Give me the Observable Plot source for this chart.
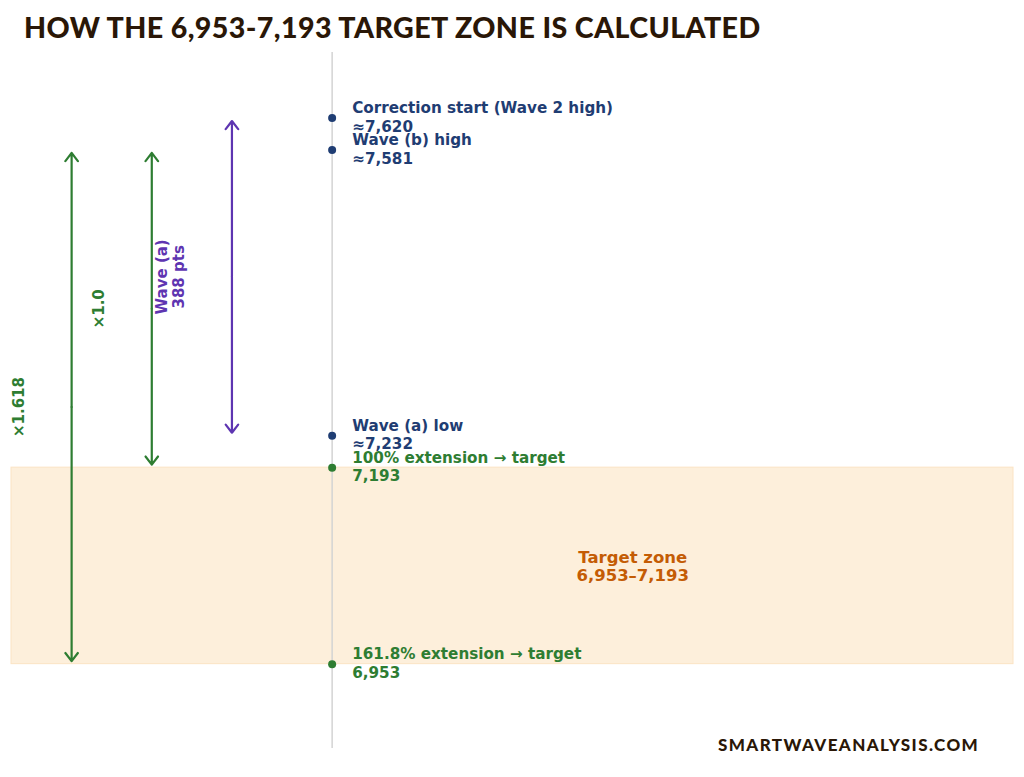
<!DOCTYPE html>
<html>
<head>
<meta charset="utf-8">
<script src="https://cdn.jsdelivr.net/npm/d3@7"></script>
<script src="https://cdn.jsdelivr.net/npm/@observablehq/plot@0.6"></script>
<style>
  html, body { margin: 0; padding: 0; background: #fff; }
  #wrap { position: relative; width: 1024px; height: 777px; overflow: hidden; }
  #title { position: absolute; left: 24px; top: 10px; font-family: Lato, "DejaVu Sans", sans-serif; font-weight: 900; font-size: 28.6px; color: #2a1707; letter-spacing: 0.4px; white-space: nowrap; }
  #chart { position: absolute; left: 0; top: 0; }
  #footer { position: absolute; left: 718px; top: 734px; font-family: Lato, "DejaVu Sans", sans-serif; font-weight: 900; font-size: 17px; color: #2a1707; letter-spacing: 1.4px; white-space: nowrap; }
</style>
</head>
<body>
<div id="wrap">
  <div id="chart"></div>
  <div id="title">HOW THE 6,953-7,193 TARGET ZONE IS CALCULATED</div>
  <div id="footer">SMARTWAVEANALYSIS.COM</div>
</div>
<script>
// Price levels
const levelNames = ["Correction start (Wave 2 high)", "Wave (b) high", "Wave (a) low", "100% extension → target", "161.8% extension → target"];
const levelValues = [7620, 7581, 7232, 7193, 6953];
const levelValueLabels = ["≈7,620", "≈7,581", "≈7,232", "7,193", "6,953"];
const levelKinds = ["wave", "wave", "wave", "target", "target"];

// Target zone
const zoneLow = 6953;
const zoneHigh = 7193;
const zoneLabel = "Target zone\n6,953–7,193";

// Measurement arrows
const arrowNames = ["Wave (a)\n388 pts", "×1.0", "×1.618"];
const arrowFrom = [7620, 7581, 7581];
const arrowTo = [7232, 7193, 6953];
const arrowKinds = ["purple", "target", "target"];
const arrowPos = [0.22, 0.14, 0.06];
const arrowLabelPos = [0.158, 0.087, 0.007];

const colors = { wave: "#1f3d73", target: "#2e7d32", purple: "#5e35b1", zone: "#c45c05" };

const levels = levelNames.map((n, i) => ({ name: n, value: levelValues[i], label: n + "\n" + levelValueLabels[i], kind: levelKinds[i] }));
const arrows = arrowNames.map((n, i) => ({ name: n, y1: arrowFrom[i], y2: arrowTo[i], x: arrowPos[i], lx: arrowLabelPos[i], mid: (arrowFrom[i] + arrowTo[i]) / 2, color: colors[arrowKinds[i]] }));
// each double-headed arrow drawn as two halves from its midpoint outwards
const halves = arrows.flatMap(a => [{ x: a.x, from: a.mid, to: a.y1, color: a.color }, { x: a.x, from: a.mid, to: a.y2, color: a.color }]);

const lineX = 0.32, labelX = 0.34, zoneLabelX = 0.62;

const chart = Plot.plot({
  width: 1024,
  height: 777,
  marginTop: 52,
  marginBottom: 29,
  marginLeft: 11,
  marginRight: 11,
  x: { domain: [0, 1], axis: null },
  y: { domain: [6850, 7700], axis: null },
  style: { fontFamily: "'DejaVu Sans', sans-serif", background: "transparent" },
  marks: [
    Plot.rect([{ y1: zoneLow, y2: zoneHigh }], { x1: 0, x2: 1, y1: "y1", y2: "y2", fill: "#fdefdb", stroke: "#fbe3c4", strokeWidth: 1 }),
    Plot.ruleX([lineX], { stroke: "#d3d3d3", strokeWidth: 1.5 }),
    Plot.arrow(halves, { x1: "x", x2: "x", y1: "from", y2: "to", stroke: "color", strokeWidth: 2.2, headLength: 7, headAngle: 75, insetEnd: 3 }),
    Plot.text(arrows, { x: "lx", y: "mid", text: "name", rotate: -90, fill: "color", fontSize: 15, fontWeight: "bold", lineAnchor: "middle", lineHeight: 1.12 }),
    Plot.dot(levels, { x: () => lineX, y: "value", r: 4, fill: d => colors[d.kind], stroke: null }),
    Plot.text(levels, { x: () => labelX, y: "value", text: "label", fill: d => colors[d.kind], fontSize: 15.2, fontWeight: "bold", textAnchor: "start", lineAnchor: "middle", lineHeight: 1.22, dy: -1.5 }),
    Plot.text([{ y: (zoneLow + zoneHigh) / 2 }], { x: () => zoneLabelX, y: "y", text: () => zoneLabel, fill: colors.zone, fontSize: 16.5, fontWeight: "bold", textAnchor: "middle", lineAnchor: "middle", lineHeight: 1.12 })
  ]
});
document.getElementById("chart").appendChild(chart);
</script>
</body>
</html>
